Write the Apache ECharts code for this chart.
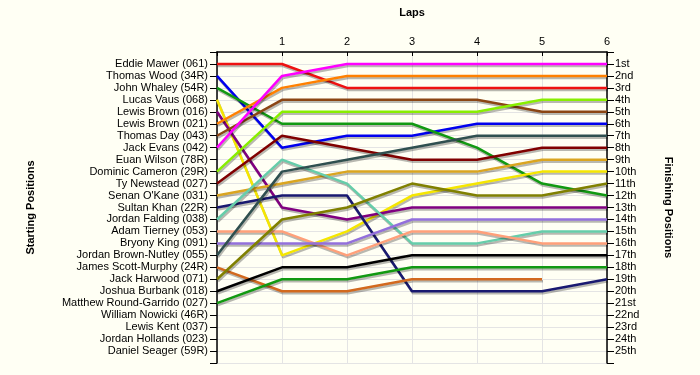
<!DOCTYPE html>
<html>
<head>
<meta charset="utf-8">
<script src="https://cdn.jsdelivr.net/npm/echarts@6/dist/echarts.min.js"></script>
<style>
  html, body { margin: 0; padding: 0; background: #fffff4; }
  #chart { width: 700px; height: 375px; }
</style>
</head>
<body>
<div id="chart"></div>
<script>
// starting grid, top to bottom
var drivers = [
  'Eddie Mawer (061)', 'Thomas Wood (34R)', 'John Whaley (54R)', 'Lucas Vaus (068)',
  'Lewis Brown (016)', 'Lewis Brown (021)', 'Thomas Day (043)', 'Jack Evans (042)',
  'Euan Wilson (78R)', 'Dominic Cameron (29R)', 'Ty Newstead (027)', "Senan O'Kane (031)",
  'Sultan Khan (22R)', 'Jordan Falding (038)', 'Adam Tierney (053)', 'Bryony King (091)',
  'Jordan Brown-Nutley (055)', 'James Scott-Murphy (24R)', 'Jack Harwood (071)',
  'Joshua Burbank (018)', 'Matthew Round-Garrido (027)', 'William Nowicki (46R)',
  'Lewis Kent (037)', 'Jordan Hollands (023)', 'Daniel Seager (59R)'
]

var finishLabels = [
  '1st', '2nd', '3rd', '4th', '5th', '6th', '7th', '8th', '9th', '10th',
  '11th', '12th', '13th', '14th', '15th', '16th', '17th', '18th', '19th', '20th',
  '21st', '22nd', '23rd', '24th', '25th'
]

var laps = [0, 1, 2, 3, 4, 5, 6]

// position at lap 0..6 for each driver (null = no data)
var positions = [
  [1, 1, 3, 3, 3, 3, 3],
  [2, 8, 7, 7, 6, 6, 6],
  [3, 6, 6, 6, 8, 11, 12],
  [4, 17, 15, 12, 11, 10, 10],
  [5, 13, 14, 13, 13, 13, 13],
  [6, 3, 2, 2, 2, 2, 2],
  [7, 4, 4, 4, 4, 5, 5],
  [8, 2, 1, 1, 1, 1, 1],
  null,
  [10, 5, 5, 5, 5, 4, 4],
  [11, 7, 8, 9, 9, 8, 8],
  [12, 11, 10, 10, 10, 9, 9],
  [13, 12, 12, 20, 20, 20, 19],
  [14, 9, 11, 16, 16, 15, 15],
  [15, 15, 17, 15, 15, 16, 16],
  [16, 16, 16, 14, 14, 14, 14],
  [17, 10, 9, 8, 7, 7, 7],
  [18, 20, 20, 19, 19, 19],
  [19, 14, 13, 11, 12, 12, 11],
  [20, 18, 18, 17, 17, 17, 17],
  [21, 19, 19, 18, 18, 18, 18],
  null, null, null, null
]

var colors = [
  '#ee1111', '#0000ee', '#119911', '#f5e600', '#800080', '#ff8000', '#8b4513', '#ff00ff',
  '#66cdaa', '#88ee00', '#800000', '#daa520', '#191970', '#66cdaa', '#ffa07a', '#9370db',
  '#2f4f4f', '#d2691e', '#808000', '#000000', '#119911', '#999999', '#999999', '#999999', '#999999'
]

var series = []
for (var i in positions) {
  if (!positions[i]) continue
  var pts = []
  for (var k in positions[i]) {
    pts.push([laps[k], positions[i][k]])
  }
  series.push({
    name: drivers[i],
    type: 'line',
    data: pts,
    symbol: 'none',
    animation: false,
    lineStyle: {
      width: 2.5,
      color: colors[i],
      shadowColor: 'rgba(0,0,0,0.28)',
      shadowOffsetX: 1,
      shadowOffsetY: 2,
      shadowBlur: 0
    }
  })
}

var font = 'Liberation Sans'

var chart = echarts.init(document.getElementById('chart'))
chart.setOption({
  backgroundColor: '#fffff4',
  textStyle: { fontFamily: font },
  grid: { left: 217, right: 93, top: 52, bottom: 12 },
  xAxis: {
    type: 'value',
    position: 'top',
    min: 0,
    max: 6,
    interval: 1,
    name: 'Laps',
    nameLocation: 'middle',
    nameGap: 34,
    nameTextStyle: { fontWeight: 'bold', fontSize: 11, color: '#000', fontFamily: font },
    axisLine: { lineStyle: { color: '#000', width: 1.5 } },
    axisTick: { inside: true, length: 4, lineStyle: { color: '#000' } },
    axisLabel: {
      color: '#000', fontSize: 11, fontFamily: font, margin: 5,
      formatter: function (v) { return v === 0 ? '' : v }
    },
    splitLine: { show: true, lineStyle: { color: '#e4e4e4' } }
  },
  yAxis: [
    {
      type: 'value',
      inverse: true,
      min: 0,
      max: 26,
      interval: 1,
      name: 'Starting Positions',
      nameLocation: 'middle',
      nameRotate: 90,
      nameGap: 181,
      nameTextStyle: { fontWeight: 'bold', fontSize: 11, color: '#000', fontFamily: font },
      axisLine: { show: true, lineStyle: { color: '#000', width: 1.5 } },
      axisTick: { length: 7, lineStyle: { color: '#000' } },
      axisLabel: {
        color: '#000', fontSize: 11, fontFamily: font, margin: 9,
        formatter: function (v) { return drivers[v - 1] || '' }
      },
      splitLine: { show: true, lineStyle: { color: '#e4e4e4' } }
    },
    {
      type: 'value',
      inverse: true,
      position: 'right',
      min: 0,
      max: 26,
      interval: 1,
      name: 'Finishing Positions',
      nameLocation: 'middle',
      nameRotate: -90,
      nameGap: 56,
      nameTextStyle: { fontWeight: 'bold', fontSize: 11, color: '#000', fontFamily: font },
      axisLine: { show: true, lineStyle: { color: '#000', width: 1.5 } },
      axisTick: { length: 7, lineStyle: { color: '#000' } },
      axisLabel: {
        color: '#000', fontSize: 11, fontFamily: font, margin: 8,
        formatter: function (v) { return finishLabels[v - 1] || '' }
      },
      splitLine: { show: false }
    }
  ],
  series: series
})
</script>
</body>
</html>
